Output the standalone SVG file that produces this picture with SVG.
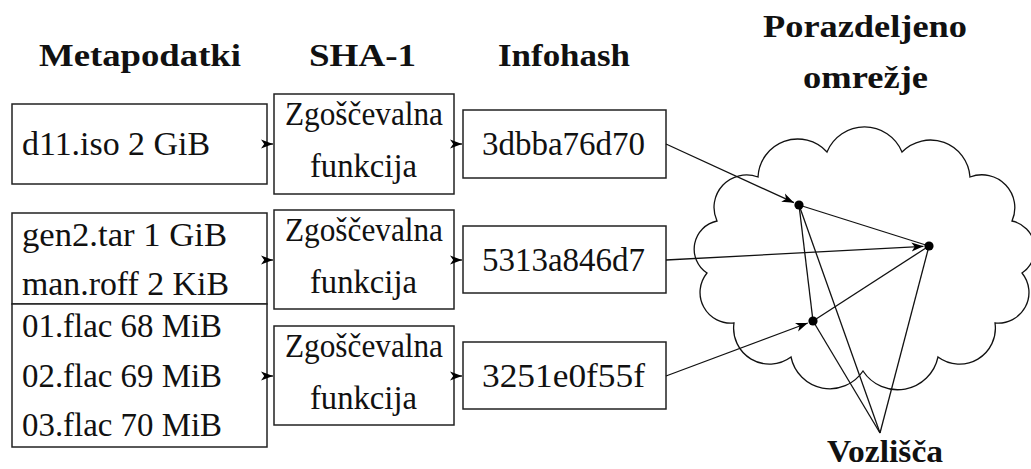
<svg xmlns="http://www.w3.org/2000/svg" width="1031" height="469" viewBox="0 0 1031 469">
<style>
.box{fill:#fff;stroke:#222;stroke-width:1.5}
.ln{stroke:#111;stroke-width:1.3;fill:none}
.dot{fill:#000}
</style>
<defs>
<marker id="ar" markerUnits="userSpaceOnUse" markerWidth="12" markerHeight="10" viewBox="0 0 12 10" refX="12" refY="5" orient="auto">
<path d="M0,0.5 L12,5 L0,9.5 L3.2,5 Z" fill="#000"/>
</marker>
</defs>

<g id="headers">
<text x="39" y="66" font-family="Liberation Serif" font-size="32" font-weight="bold" fill="#111" textLength="202" lengthAdjust="spacingAndGlyphs">Metapodatki</text>
<text x="309" y="66" font-family="Liberation Serif" font-size="32" font-weight="bold" fill="#111" textLength="107" lengthAdjust="spacingAndGlyphs">SHA-1</text>
<text x="498" y="66" font-family="Liberation Serif" font-size="32" font-weight="bold" fill="#111" textLength="132" lengthAdjust="spacingAndGlyphs">Infohash</text>
<text x="763" y="37" font-family="Liberation Serif" font-size="32" font-weight="bold" fill="#111" textLength="204" lengthAdjust="spacingAndGlyphs">Porazdeljeno</text>
<text x="803" y="88" font-family="Liberation Serif" font-size="32" font-weight="bold" fill="#111" textLength="125" lengthAdjust="spacingAndGlyphs">omrežje</text>
</g>

<g id="meta1">
<rect class="box" x="12" y="104" width="255" height="80"/>
<text x="22" y="155" font-family="Liberation Serif" font-size="33" fill="#111" textLength="188" lengthAdjust="spacingAndGlyphs">d11.iso 2 GiB</text>
</g>
<g id="meta2">
<rect class="box" x="12" y="213" width="255" height="91"/>
<text x="22" y="246" font-family="Liberation Serif" font-size="33" fill="#111" textLength="205" lengthAdjust="spacingAndGlyphs">gen2.tar 1 GiB</text>
<text x="22" y="295" font-family="Liberation Serif" font-size="33" fill="#111" textLength="207" lengthAdjust="spacingAndGlyphs">man.roff 2 KiB</text>
</g>
<g id="meta3">
<rect class="box" x="12" y="304" width="255" height="143"/>
<text x="22" y="337" font-family="Liberation Serif" font-size="33" fill="#111" textLength="200" lengthAdjust="spacingAndGlyphs">01.flac 68 MiB</text>
<text x="22" y="387" font-family="Liberation Serif" font-size="33" fill="#111" textLength="200" lengthAdjust="spacingAndGlyphs">02.flac 69 MiB</text>
<text x="22" y="436" font-family="Liberation Serif" font-size="33" fill="#111" textLength="200" lengthAdjust="spacingAndGlyphs">03.flac 70 MiB</text>
</g>

<g id="hash1">
<rect class="box" x="274" y="94" width="180" height="100"/>
<text x="285" y="125" font-family="Liberation Serif" font-size="33" fill="#111" textLength="158" lengthAdjust="spacingAndGlyphs">Zgoščevalna</text>
<text x="310" y="177" font-family="Liberation Serif" font-size="33" fill="#111" textLength="107" lengthAdjust="spacingAndGlyphs">funkcija</text>
</g>
<g id="hash2">
<rect class="box" x="274" y="210" width="180" height="99"/>
<text x="285" y="241" font-family="Liberation Serif" font-size="33" fill="#111" textLength="158" lengthAdjust="spacingAndGlyphs">Zgoščevalna</text>
<text x="310" y="293" font-family="Liberation Serif" font-size="33" fill="#111" textLength="107" lengthAdjust="spacingAndGlyphs">funkcija</text>
</g>
<g id="hash3">
<rect class="box" x="274" y="326" width="180" height="99"/>
<text x="285" y="357" font-family="Liberation Serif" font-size="33" fill="#111" textLength="158" lengthAdjust="spacingAndGlyphs">Zgoščevalna</text>
<text x="310" y="409" font-family="Liberation Serif" font-size="33" fill="#111" textLength="107" lengthAdjust="spacingAndGlyphs">funkcija</text>
</g>

<g id="info1">
<rect class="box" x="463" y="110" width="203" height="68"/>
<text x="482" y="155" font-family="Liberation Serif" font-size="33" fill="#111" textLength="163" lengthAdjust="spacingAndGlyphs">3dbba76d70</text>
</g>
<g id="info2">
<rect class="box" x="463" y="226" width="203" height="67"/>
<text x="482" y="271" font-family="Liberation Serif" font-size="33" fill="#111" textLength="163" lengthAdjust="spacingAndGlyphs">5313a846d7</text>
</g>
<g id="info3">
<rect class="box" x="463" y="342" width="203" height="67"/>
<text x="482" y="387" font-family="Liberation Serif" font-size="33" fill="#111" textLength="163" lengthAdjust="spacingAndGlyphs">3251e0f55f</text>
</g>

<g id="cloud">
<path class="ln" d="M758 177 A39.7 39.7 0 0 1 827 152 A40.6 40.6 0 0 1 902 152 A39.7 39.7 0 0 1 970 177 A32.9 32.9 0 0 1 1012 221 A28.7 28.7 0 0 1 1022 273 A30.7 30.7 0 0 1 995 323 A35.9 35.9 0 0 1 938 357 A41.3 41.3 0 0 1 863 371 A39.7 39.7 0 0 1 791 357 A35.9 35.9 0 0 1 734 323 A30.7 30.7 0 0 1 707 273 A28.7 28.7 0 0 1 717 221 A32.5 32.5 0 0 1 758 177 Z"/>
</g>

<g id="connectors">
<line class="ln" x1="267" y1="144" x2="273" y2="144" marker-end="url(#ar)"/>
<line class="ln" x1="267" y1="260" x2="273" y2="260" marker-end="url(#ar)"/>
<line class="ln" x1="267" y1="376" x2="273" y2="376" marker-end="url(#ar)"/>
<line class="ln" x1="454" y1="144" x2="462" y2="144" marker-end="url(#ar)"/>
<line class="ln" x1="454" y1="260" x2="462" y2="260" marker-end="url(#ar)"/>
<line class="ln" x1="454" y1="376" x2="462" y2="376" marker-end="url(#ar)"/>
<line class="ln" x1="666" y1="144" x2="794" y2="202.7" marker-end="url(#ar)"/>
<line class="ln" x1="666" y1="260" x2="923.5" y2="246.3" marker-end="url(#ar)"/>
<line class="ln" x1="666" y1="376" x2="807.8" y2="323" marker-end="url(#ar)"/>
<line class="ln" x1="799" y1="205" x2="929" y2="246"/>
<line class="ln" x1="813" y1="321" x2="929" y2="246"/>
<line class="ln" x1="799" y1="205" x2="813" y2="321"/>
<line class="ln" x1="880" y1="433" x2="799" y2="205"/>
<line class="ln" x1="880" y1="433" x2="929" y2="246"/>
<line class="ln" x1="880" y1="433" x2="813" y2="321"/>
</g>

<g id="nodes">
<circle class="dot" cx="799" cy="205" r="4.6"/>
<circle class="dot" cx="929" cy="246" r="4.6"/>
<circle class="dot" cx="813" cy="321" r="4.6"/>
</g>

<g id="label-vozlisca">
<text x="827" y="462" font-family="Liberation Serif" font-size="32" font-weight="bold" fill="#111" textLength="116" lengthAdjust="spacingAndGlyphs">Vozlišča</text>
</g>
</svg>
